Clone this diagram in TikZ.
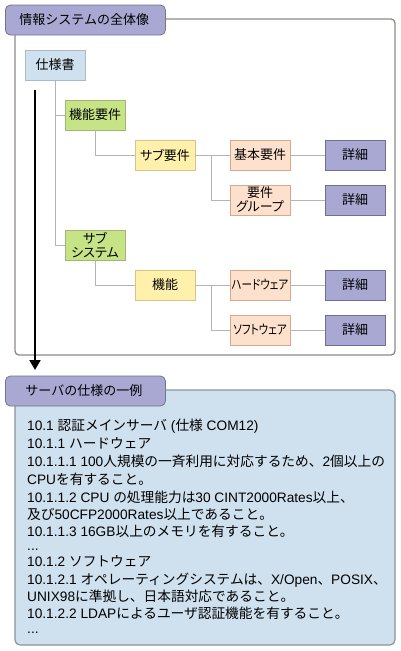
\documentclass[tikz,border=0pt]{standalone}
\usepackage{fontspec}
\usepackage{graphicx}
\setmainfont{Noto Sans CJK JP}
\newfontfamily\jpp{Noto Sans CJK JP}[RawFeature=+palt]
\newfontfamily\latf{Liberation Sans}
\newcommand\Ltn[1]{{\latf #1}}
\newcommand\narrowtxt[1]{\scalebox{0.81}[1]{#1}}
\usetikzlibrary{arrows.meta}
\definecolor{lav}{HTML}{A8A8D2}
\definecolor{lavborder}{HTML}{6E6E96}
\definecolor{titleborder}{HTML}{74748C}
\definecolor{specfill}{HTML}{CFE1EE}
\definecolor{specborder}{HTML}{A9BAC8}
\definecolor{greenfill}{HTML}{C6E386}
\definecolor{greenborder}{HTML}{A2B67A}
\definecolor{yellowfill}{HTML}{FFF1AC}
\definecolor{yellowborder}{HTML}{D4C48A}
\definecolor{peachfill}{HTML}{FDE1CC}
\definecolor{peachborder}{HTML}{D6A88E}
\definecolor{linkgray}{HTML}{B4B4B4}
\definecolor{framegray}{HTML}{8E8A86}
\definecolor{frametwo}{HTML}{8C949C}
\definecolor{panelblue}{HTML}{CFE0EE}
\begin{document}
\begin{tikzpicture}[x=1pt,y=-1pt,
  box/.style={draw, minimum width=60pt, minimum height=30pt, inner sep=0pt,
    font=\fontsize{13}{14}\selectfont\jpp, align=center, line width=0.8pt},
  specbox/.style={box, fill=specfill, draw=specborder},
  greenbox/.style={box, fill=greenfill, draw=greenborder},
  yellowbox/.style={box, fill=yellowfill, draw=yellowborder},
  peachbox/.style={box, fill=peachfill, draw=peachborder},
  detailbox/.style={box, fill=lav, draw=lavborder},
  link/.style={draw=linkgray, line width=0.8pt},
  titlebox/.style={draw=titleborder, fill=lav, rounded corners=5pt, line width=0.8pt,
    minimum height=30pt, anchor=west, align=left, inner ysep=0pt,
    font=\fontsize{13}{14}\selectfont},
  txt/.style={font=\fontsize{13.7}{15}\selectfont, inner sep=0pt, anchor=base west}
]
\useasboundingbox (0,0) rectangle (400,651);
\fill[white] (0,0) rectangle (400,651);

% frame 1
\draw[draw=framegray, line width=1.3pt, rounded corners=4pt] (15,19) rectangle (395,355);
\node[titlebox, text width=132pt, inner xsep=14pt] (title1) at (5,20) {情報システムの全体像};

% tree nodes
\node[specbox] (spec) at (55,65) {仕様書};
\node[greenbox] (fyoken) at (95,115) {機能要件};
\node[greenbox] (subsys) at (95,245) {サブ\\システム};
\node[yellowbox] (subyoken) at (165,155) {サブ要件};
\node[yellowbox] (kinou) at (165,285) {機能};
\node[peachbox] (kihon) at (260,155) {基本要件};
\node[peachbox] (group) at (260,200) {要件\\グループ};
\node[peachbox] (hard) at (260,285) {\narrowtxt{ハードウェア}};
\node[peachbox] (soft) at (260,330) {\narrowtxt{ソフトウェア}};
\node[detailbox] (d1) at (355,155) {詳細};
\node[detailbox] (d2) at (355,200) {詳細};
\node[detailbox] (d3) at (355,285) {詳細};
\node[detailbox] (d4) at (355,330) {詳細};

% connectors
\draw[link] (spec.south) |- (fyoken.west);
\draw[link] (spec.south) |- (subsys.west);
\draw[link] (fyoken.south) |- (subyoken.west);
\draw[link] (subsys.south) |- (kinou.west);
\draw[link] (subyoken.east) -- (kihon.west);
\draw[link] (subyoken.east) ++(16,0) |- (group.west);
\draw[link] (kinou.east) -- (hard.west);
\draw[link] (kinou.east) ++(16,0) |- (soft.west);
\draw[link] (kihon.east) -- (d1.west);
\draw[link] (group.east) -- (d2.west);
\draw[link] (hard.east) -- (d3.west);
\draw[link] (soft.east) -- (d4.west);

% arrow
\coordinate (arrS) at (35,90);
\coordinate (arrE) at (35,370);
\draw[line width=2pt, -{Triangle[width=11pt,length=10pt]}] (arrS) -- (arrE);

% frame 2
\draw[fill=panelblue, draw=frametwo, line width=1.2pt, rounded corners=5pt] (15,390) rectangle (395,645);
\node[titlebox, text width=120pt, inner xsep=20pt] (title2) at (5,391) {サーバの仕様の一例};

% text lines
\node[txt] (t1) at (27,430) {\Ltn{10.1 }認証メインサーバ\Ltn{ (}仕様\Ltn{ COM12)}};
\node[txt] (t2) at (27,448) {\Ltn{10.1.1 }ハードウェア};
\node[txt] (t3) at (27,466.5) {\Ltn{10.1.1.1 100}人規模の一斉利用に対応するため、\Ltn{2}個以上の};
\node[txt] (t4) at (27,484.5) {\Ltn{CPU}を有すること。};
\node[txt] (t5) at (27,502) {\Ltn{10.1.1.2 CPU }の処理能力は\Ltn{30 CINT2000Rates}以上、};
\node[txt] (t6) at (27,519.5) {及び\Ltn{50CFP2000Rates}以上であること。};
\node[txt] (t7) at (27,536) {\Ltn{10.1.1.3 16GB}以上のメモリを有すること。};
\node[txt] (t8) at (27,550.5) {\Ltn{...}};
\node[txt] (t9) at (27,566) {\Ltn{10.1.2 }ソフトウェア};
\node[txt] (t10) at (27,584.5) {\Ltn{10.1.2.1 }オペレーティングシステムは、\Ltn{X/Open}、\Ltn{POSIX}、};
\node[txt] (t11) at (27,601.5) {\Ltn{UNIX98}に準拠し、日本語対応であること。};
\node[txt] (t12) at (27,618) {\Ltn{10.1.2.2 LDAP}によるユーザ認証機能を有すること。};
\node[txt] (t13) at (27,633) {\Ltn{...}};
\end{tikzpicture}
\end{document}
